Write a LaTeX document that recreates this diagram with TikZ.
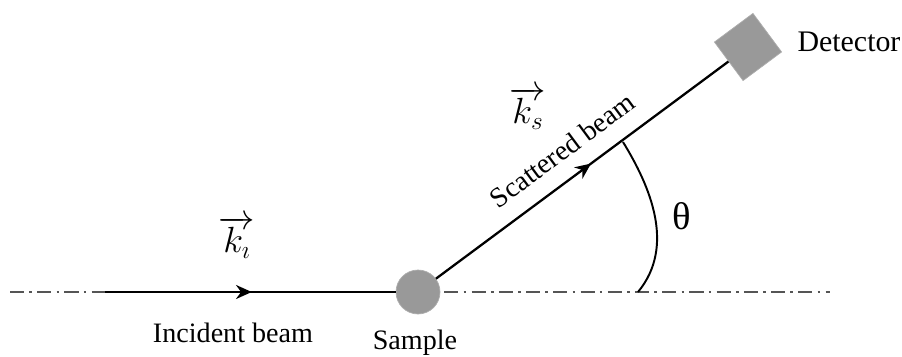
\documentclass[tikz,border=0pt]{standalone}
\usepackage{fontspec}
\setmainfont{Liberation Serif}
\newfontfamily\labelfont{Liberation Serif}
\usepackage{tikz}
\usetikzlibrary{arrows.meta, positioning, decorations.markings}
\definecolor{smpgray}{HTML}{999999}
\definecolor{axisgray}{HTML}{555555}

\begin{document}
\begin{tikzpicture}[x=0.02cm, y=0.02cm,
  beam/.style={line width=1.3pt, black},
  midarrow/.style={decoration={markings,
      mark=at position #1 with {\arrow{Stealth[length=9pt,width=8pt]}}},
      postaction={decorate}},
  axis/.style={line width=0.8pt, axisgray,
      dash pattern=on 8pt off 3pt on 1.5pt off 3pt},
  lbl/.style={font=\labelfont\fontsize{16}{19}\selectfont, inner sep=0pt},
  vec/.style={font=\fontsize{22}{26}\selectfont, inner sep=0pt}
]
  \useasboundingbox (0,0) rectangle (902,356);

  % Sample and detector
  \node[circle, fill=smpgray, draw=smpgray!80, minimum size=0.88cm, inner sep=0pt] (sample) at (418,64) {};
  \node[rectangle, fill=smpgray, draw=smpgray!80, minimum size=0.96cm, inner sep=0pt,
        rotate=36.6] (det) at (748,309) {};

  % Beam ends
  \coordinate (src) at (105,64);
  \coordinate (axl) at (10,64);
  \coordinate (axr) at (830,64);

  % Axis
  \draw[axis] (axl) -- (src);
  \draw[axis] (sample.east) ++(4,0) -- (axr);

  % Beams
  \draw[beam, midarrow=0.505] (src) -- (sample);
  \draw[beam, midarrow=0.53] (sample) -- (det);

  % Angle
  \coordinate (a1) at (623,214);
  \coordinate (a2) at (638,64);
  \draw[line width=1.1pt] (a1) .. controls (650,170) and (676,110) .. (a2);

  % Labels
  \node[vec] (ki) at (237,119) {$\overrightarrow{k_\imath}$};
  \node[lbl] (inc) at (233,23) {Incident beam};
  \node[lbl] (smp) at (415,13) {Sample};
  \node[vec] (ks) at (528,248) {$\overrightarrow{k_s}$};
  \node[lbl, rotate=36.6] (sct) at (562,206) {Scattered beam};
  \node[font=\labelfont\fontsize{22}{26}\selectfont, inner sep=0pt] (th) at (682,140) {θ};
  \node[font=\labelfont\fontsize{17}{20}\selectfont, inner sep=0pt] (detl) at (849,314) {Detector};
\end{tikzpicture}
\end{document}
